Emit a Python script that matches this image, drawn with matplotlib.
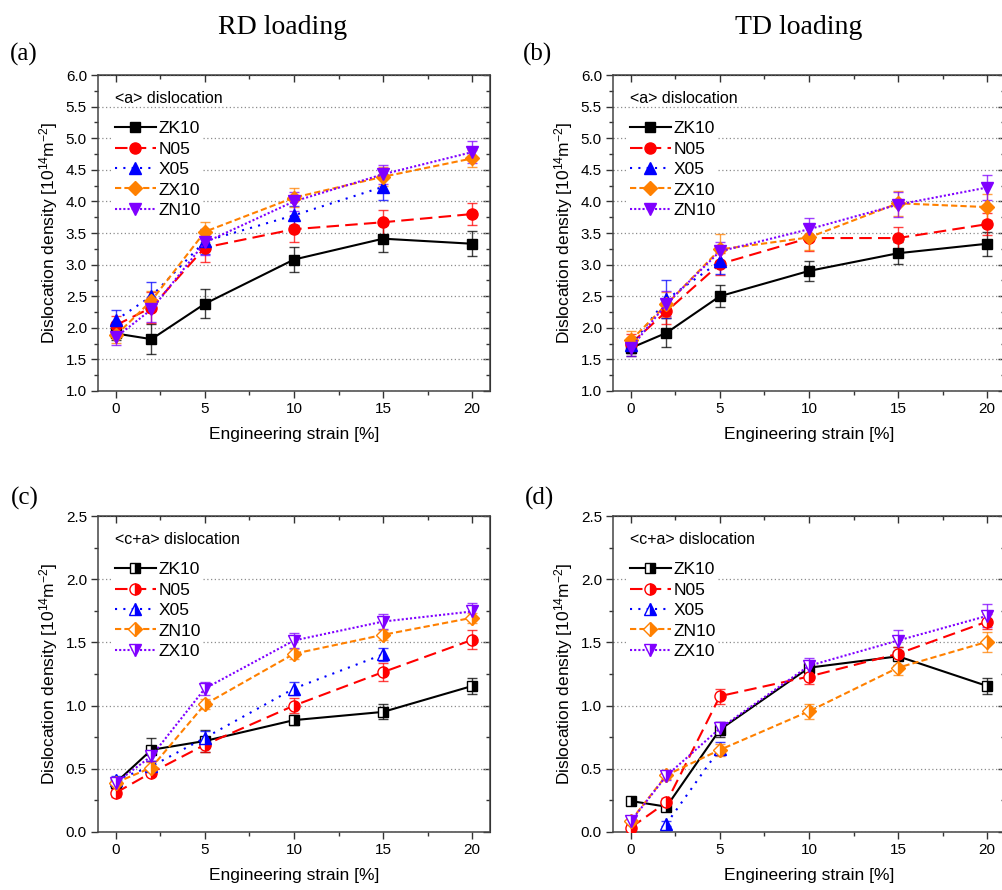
import numpy as np
import matplotlib as mpl
mpl.use('Agg')
import matplotlib.pyplot as plt
from matplotlib.ticker import MultipleLocator

plt.rcParams['font.family'] = ['Liberation Sans', 'DejaVu Sans']
plt.rcParams['mathtext.fontset'] = 'custom'
plt.rcParams['mathtext.rm'] = 'Liberation Sans'
plt.rcParams['mathtext.it'] = 'Liberation Sans:italic'

strain = [0, 2, 5, 10, 15, 20]

# (a) RD loading, <a> dislocation
a_zk10 = [1.91, 1.82, 2.38, 3.08, 3.41, 3.33]
a_zk10_err = [0.10, 0.24, 0.23, 0.20, 0.21, 0.20]
a_n05 = [2.04, 2.32, 3.27, 3.56, 3.67, 3.80]
a_n05_err = [0.15, 0.25, 0.23, 0.21, 0.20, 0.18]
a_x05 = [2.12, 2.50, 3.37, 3.78, 4.23]
a_x05_err = [0.16, 0.22, 0.20, 0.15, 0.20]
a_zx10 = [1.88, 2.43, 3.52, 4.06, 4.39, 4.68]
a_zx10_err = [0.12, 0.15, 0.16, 0.15, 0.15, 0.14]
a_zn10 = [1.85, 2.29, 3.35, 4.00, 4.43, 4.78]
a_zn10_err = [0.13, 0.20, 0.20, 0.15, 0.15, 0.17]

# (b) TD loading, <a> dislocation
b_zk10 = [1.68, 1.92, 2.50, 2.90, 3.18, 3.33]
b_zk10_err = [0.12, 0.23, 0.17, 0.16, 0.17, 0.19]
b_n05 = [1.75, 2.26, 3.01, 3.42, 3.42, 3.64]
b_n05_err = [0.15, 0.20, 0.18, 0.20, 0.18, 0.17]
b_x05 = [1.72, 2.45, 3.05]
b_x05_err = [0.12, 0.30, 0.20]
b_zx10 = [1.80, 2.37, 3.24, 3.43, 3.97, 3.91]
b_zx10_err = [0.15, 0.20, 0.24, 0.20, 0.20, 0.20]
b_zn10 = [1.68, 2.38, 3.21, 3.56, 3.95, 4.22]
b_zn10_err = [0.12, 0.20, 0.15, 0.17, 0.20, 0.20]

# (c) RD loading, <c+a> dislocation
c_zk10 = [0.39, 0.65, 0.72, 0.885, 0.95, 1.155]
c_zk10_err = [0.03, 0.09, 0.09, 0.04, 0.06, 0.065]
c_n05 = [0.31, 0.47, 0.69, 1.00, 1.265, 1.52]
c_n05_err = [0.03, 0.03, 0.06, 0.06, 0.07, 0.075]
c_x05 = [0.41, 0.52, 0.745, 1.135, 1.405]
c_x05_err = [0.03, 0.04, 0.05, 0.05, 0.05]
c_zn10 = [0.39, 0.51, 1.01, 1.41, 1.56, 1.695]
c_zn10_err = [0.03, 0.04, 0.04, 0.04, 0.04, 0.04]
c_zx10 = [0.39, 0.60, 1.135, 1.515, 1.665, 1.745]
c_zx10_err = [0.03, 0.04, 0.05, 0.06, 0.06, 0.07]

# (d) TD loading, <c+a> dislocation
d_zk10 = [0.245, 0.20, 0.81, 1.30, 1.39, 1.155]
d_zk10_err = [0.02, 0.03, 0.06, 0.04, 0.07, 0.065]
d_n05 = [0.035, 0.235, 1.075, 1.23, 1.41, 1.665]
d_n05_err = [0.03, 0.03, 0.06, 0.06, 0.05, 0.06]
d_x05 = [0.065, 0.66]
d_x05_err = [0.02, 0.05]
d_zn10 = [0.09, 0.45, 0.65, 0.955, 1.30, 1.505]
d_zn10_err = [0.03, 0.03, 0.05, 0.06, 0.06, 0.08]
d_zx10 = [0.085, 0.445, 0.82, 1.315, 1.515, 1.71]
d_zx10_err = [0.03, 0.03, 0.05, 0.06, 0.08, 0.09]

black, red, blue, orange, violet = '#000000', '#FF0000', '#0000FF', '#FF8000', '#8000FF'

sty_zk = dict(color=black, ls='-', marker='s', ms=7)
sty_n = dict(color=red, ls=(0, (6, 3)), marker='o', ms=8)
sty_x = dict(color=blue, ls=(0, (1, 3)), marker='^', ms=8.5)
sty_zx = dict(color=orange, ls=(0, (3, 1.5)), marker='D', ms=7)
sty_zn = dict(color=violet, ls=(0, (1, 1)), marker='v', ms=8.5)

fig = plt.figure(figsize=(10.03, 8.90), dpi=100)

W, H = 0.3908, 0.355
pos = {'a': [0.0977, 0.5607, W, H], 'b': [0.6112, 0.5607, W, H],
       'c': [0.0977, 0.0652, W, H], 'd': [0.6112, 0.0652, W, H]}


def panel(key, series, ylim, note, half):
    ax = fig.add_axes(pos[key])
    for x, y, e, lab, st in series:
        ax.errorbar(x, y, yerr=e, fmt='none', ecolor=st['color'], elinewidth=1,
                    capsize=3.5, capthick=1, alpha=0.75, zorder=3)
        kw = dict(st)
        if half:
            kw.update(fillstyle='right', markerfacecoloralt='white')
        ax.plot(x, y, lw=1.5, mec=st['color'], mew=1, label=lab, zorder=4, **kw)
    ax.set_xlim(-1, 21)
    ax.set_ylim(*ylim)
    ax.xaxis.set_major_locator(MultipleLocator(5))
    ax.xaxis.set_minor_locator(MultipleLocator(2.5))
    ax.yaxis.set_major_locator(MultipleLocator(0.5))
    ax.yaxis.set_minor_locator(MultipleLocator(0.25))
    ax.tick_params(which='both', direction='out', labelsize=11, color='#333333', width=1)
    ax.tick_params(which='major', length=5, pad=3)
    ax.tick_params(which='minor', length=3)
    ax.yaxis.set_major_formatter(mpl.ticker.FormatStrFormatter('%.1f'))
    ax.yaxis.grid(True, which='major', ls=(0, (1, 2)), color='#8c8c8c', lw=0.9)
    ax.set_axisbelow(True)
    for s in ax.spines.values():
        s.set_color('#444444')
        s.set_linewidth(1.1)
    top = ax.secondary_xaxis('top')
    top.xaxis.set_major_locator(MultipleLocator(5))
    top.xaxis.set_minor_locator(MultipleLocator(2.5))
    top.tick_params(which='both', direction='in', labeltop=False, color='#333333', width=1)
    top.tick_params(which='major', length=5)
    top.tick_params(which='minor', length=3)
    right = ax.secondary_yaxis('right')
    right.yaxis.set_major_locator(MultipleLocator(0.5))
    right.yaxis.set_minor_locator(MultipleLocator(0.25))
    right.tick_params(which='both', direction='in', labelright=False, color='#333333', width=1)
    right.tick_params(which='major', length=5)
    right.tick_params(which='minor', length=3)
    ax.set_xlabel('Engineering strain [%]', fontsize=12.5, labelpad=8)
    ax.set_ylabel(r'Dislocation density [10$^{14}$m$^{-2}$]', fontsize=12.5, labelpad=4)
    ax.text(0.043, 0.927, note, transform=ax.transAxes, fontsize=11.5,
            ha='left', va='center', zorder=6)
    leg = ax.legend(loc='upper left', bbox_to_anchor=(0.038, 0.859), fontsize=12.5,
                    frameon=True, framealpha=1, facecolor='white', edgecolor='none',
                    fancybox=False, borderpad=0.1, labelspacing=0.3,
                    handlelength=2.4, handletextpad=0.15, borderaxespad=0)
    leg.set_zorder(5)
    return ax


panel('a', [(strain, a_zk10, a_zk10_err, 'ZK10', sty_zk),
            (strain, a_n05, a_n05_err, 'N05', sty_n),
            (strain[:5], a_x05, a_x05_err, 'X05', sty_x),
            (strain, a_zx10, a_zx10_err, 'ZX10', sty_zx),
            (strain, a_zn10, a_zn10_err, 'ZN10', sty_zn)],
      (1.0, 6.0), '<a> dislocation', False)

panel('b', [(strain, b_zk10, b_zk10_err, 'ZK10', sty_zk),
            (strain, b_n05, b_n05_err, 'N05', sty_n),
            (strain[:3], b_x05, b_x05_err, 'X05', sty_x),
            (strain, b_zx10, b_zx10_err, 'ZX10', sty_zx),
            (strain, b_zn10, b_zn10_err, 'ZN10', sty_zn)],
      (1.0, 6.0), '<a> dislocation', False)

panel('c', [(strain, c_zk10, c_zk10_err, 'ZK10', sty_zk),
            (strain, c_n05, c_n05_err, 'N05', sty_n),
            (strain[:5], c_x05, c_x05_err, 'X05', sty_x),
            (strain, c_zn10, c_zn10_err, 'ZN10', sty_zx),
            (strain, c_zx10, c_zx10_err, 'ZX10', sty_zn)],
      (0.0, 2.5), '<c+a> dislocation', True)

panel('d', [(strain, d_zk10, d_zk10_err, 'ZK10', sty_zk),
            (strain, d_n05, d_n05_err, 'N05', sty_n),
            (strain[1:3], d_x05, d_x05_err, 'X05', sty_x),
            (strain, d_zn10, d_zn10_err, 'ZN10', sty_zx),
            (strain, d_zx10, d_zx10_err, 'ZX10', sty_zn)],
      (0.0, 2.5), '<c+a> dislocation', True)

serif = ['Liberation Serif', 'DejaVu Serif']
fig.text(283 / 1003, 1 - 34 / 890, 'RD loading', family=serif, fontsize=20, ha='center', va='baseline')
fig.text(799 / 1003, 1 - 34 / 890, 'TD loading', family=serif, fontsize=20, ha='center', va='baseline')
for lab, x, y in [('(a)', 10, 54), ('(b)', 523, 54), ('(c)', 11, 498), ('(d)', 525, 498)]:
    fig.text(x / 1003, 1 - y / 890, lab, family=serif, fontsize=18, ha='left', va='center')

fig.savefig('out.png', dpi=100)
